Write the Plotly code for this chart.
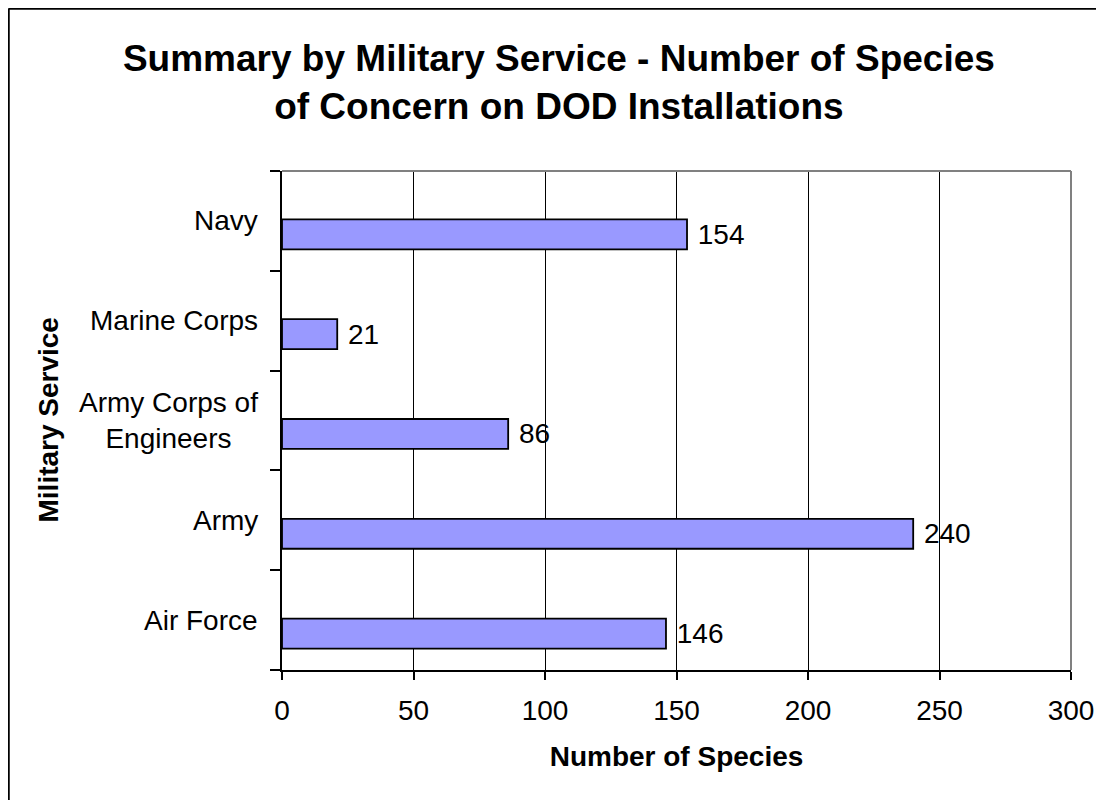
import plotly.graph_objects as go

# ---- data ----
services = ["Air Force", "Army", "Army Corps of Engineers", "Marine Corps", "Navy"]
service_labels = ["Air Force", "Army", "Army Corps of<br>Engineers", "Marine Corps", "Navy"]
species_counts = [146, 240, 86, 21, 154]
x_ticks = [0, 50, 100, 150, 200, 250, 300]

FONT = "Arial, 'Liberation Sans', sans-serif"
W, H = 1104, 800
L, R, T, B = 274, 41, 163, 138
PW, PH = W - L - R, H - T - B


def px_to_paper_x(px):
    return (px - L) / PW


def px_to_paper_y(py):
    return (H - B - py) / PH


fig = go.Figure()
fig.add_trace(go.Bar(
    y=services,
    x=species_counts,
    orientation="h",
    width=0.3,
    offset=-0.285,
    marker=dict(color="#9999FF", line=dict(color="black", width=1.8)),
    text=species_counts,
    texttemplate="\u00a0%{x}",
    textposition="outside",
    constraintext="none",
    cliponaxis=False,
    textfont=dict(family=FONT, size=28, color="black"),
    hoverinfo="skip",
))

annotations = []
for cat, lab in zip(services, service_labels):
    annotations.append(dict(
        x=0, xref="paper", y=cat, yref="y",
        text=lab, showarrow=False, xanchor="right", yanchor="middle",
        align="center", xshift=-22,
        font=dict(family=FONT, size=28, color="black"),
    ))
annotations.append(dict(
    x=px_to_paper_x(40), xref="paper", y=0.5, yref="paper",
    text="<b>Military Service</b>", textangle=-90, showarrow=False,
    xanchor="center", yanchor="middle",
    font=dict(family=FONT, size=28, color="black"),
))

bx0, by0 = px_to_paper_x(0.5), px_to_paper_y(0.5)
bx1, by1 = px_to_paper_x(1120), px_to_paper_y(820)
shapes = [
    # outer chart border (left and top edges; right/bottom fall outside the view)
    dict(type="line", xref="paper", yref="paper", x0=bx0, x1=bx1, y0=by0, y1=by0,
         line=dict(color="black", width=2.5)),
    dict(type="line", xref="paper", yref="paper", x0=bx0, x1=bx0, y0=by0, y1=by1,
         line=dict(color="black", width=2.5)),
    # grey top and right frame of the plot area
    dict(type="line", xref="paper", yref="paper", x0=0, x1=1, y0=1, y1=1,
         line=dict(color="#808080", width=2), layer="above"),
    dict(type="line", xref="paper", yref="paper", x0=1, x1=1, y0=0, y1=1,
         line=dict(color="#808080", width=2), layer="above"),
]

fig.update_layout(
    width=W, height=H,
    margin=dict(l=L, r=R, t=T, b=B, autoexpand=False),
    paper_bgcolor="white", plot_bgcolor="white",
    showlegend=False,
    title=dict(
        text="<b>Summary by Military Service - Number of Species<br>of Concern on DOD Installations</b>",
        x=0.499, xanchor="center", xref="container",
        y=1 - 63 / H, yanchor="top", yref="container",
        font=dict(family=FONT, size=37, color="black"),
    ),
    annotations=annotations,
    shapes=shapes,
    xaxis=dict(
        range=[0, 300], tickvals=x_ticks, ticktext=[str(v) for v in x_ticks],
        showgrid=True, gridcolor="black", gridwidth=1,
        showline=True, linecolor="black", linewidth=2,
        ticks="outside", ticklen=8, tickwidth=2, tickcolor="black",
        tickfont=dict(family=FONT, size=28, color="black"),
        ticklabelstandoff=6,
        zeroline=False,
        title=dict(text="<b>Number of Species</b>", standoff=22,
                   font=dict(family=FONT, size=28, color="black")),
        fixedrange=True,
    ),
    yaxis=dict(
        type="category", categoryorder="array", categoryarray=services,
        range=[-0.5, 4.5],
        showticklabels=False,
        tickson="boundaries",
        showgrid=False,
        showline=True, linecolor="black", linewidth=2,
        ticks="outside", ticklen=10, tickwidth=2, tickcolor="black",
        zeroline=False,
        fixedrange=True,
    ),
)

fig.write_html("out.html")
